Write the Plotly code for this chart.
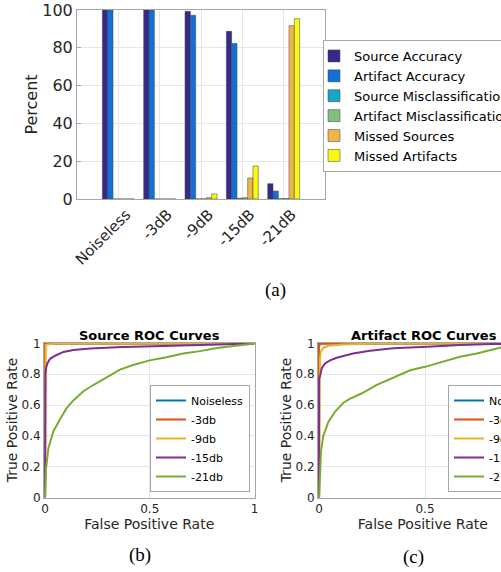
import plotly.graph_objects as go

W, H = 501, 572

# ---------------- (a) bar chart data ----------------
conditions = ["Noiseless", "-3dB", "-9dB", "-15dB", "-21dB"]
source_accuracy = [100, 100, 99.3, 88.7, 8.1]
artifact_accuracy = [100, 100, 97.2, 82.3, 4.2]
source_misclassification = [0, 0, 0.05, 0.4, 0.2]
artifact_misclassification = [0, 0, 0.1, 0.7, 0.3]
missed_sources = [0, 0, 0.7, 11.1, 91.7]
missed_artifacts = [0, 0, 2.7, 17.5, 95.4]
percent_ticks = [0, 20, 40, 60, 80, 100]

bar_names = ["Source Accuracy", "Artifact Accuracy", "Source Misclassification",
             "Artifact Misclassification", "Missed Sources", "Missed Artifacts"]
bar_values = [source_accuracy, artifact_accuracy, source_misclassification,
              artifact_misclassification, missed_sources, missed_artifacts]
bar_colors = ["#352a87", "#1170da", "#16a6c6", "#7dc07e", "#efb54a", "#f9f811"]

# ---------------- (b) Source ROC data ----------------
roc_labels = ["Noiseless", "-3db", "-9db", "-15db", "-21db"]
roc_colors = ["#0072BD", "#D95319", "#EDB120", "#7E2F8E", "#77AC30"]

src_noiseless_fpr = [0, 0, 1]
src_noiseless_tpr = [0, 1, 1]
src_3db_fpr = [0, 0, 1]
src_3db_tpr = [0, 1, 1]
src_9db_fpr = [0, 0, 0.003, 0.01, 0.05, 1]
src_9db_tpr = [0, 0.985, 0.99, 0.993, 1, 1]
src_15db_fpr = [0, 0, 0.002, 0.005, 0.011, 0.024, 0.048, 0.088, 0.135, 0.215, 0.37, 0.61, 0.85, 1]
src_15db_tpr = [0, 0.73, 0.80, 0.84, 0.87, 0.90, 0.92, 0.945, 0.958, 0.967, 0.976, 0.985, 0.993, 1]
src_21db_fpr = [0, 0.001, 0.005, 0.016, 0.04, 0.072, 0.103, 0.135, 0.183, 0.23, 0.295, 0.358,
                0.42, 0.5, 0.58, 0.66, 0.74, 0.82, 0.9, 0.95, 1]
src_21db_tpr = [0, 0.10, 0.19, 0.32, 0.43, 0.51, 0.58, 0.63, 0.69, 0.73, 0.78, 0.83,
                0.86, 0.89, 0.91, 0.935, 0.95, 0.97, 0.983, 0.99, 1]

# ---------------- (c) Artifact ROC data ----------------
art_noiseless_fpr = [0, 0, 1]
art_noiseless_tpr = [0, 1, 1]
art_3db_fpr = [0, 0, 0.004, 1]
art_3db_tpr = [0, 0.98, 1, 1]
art_9db_fpr = [0, 0.002, 0.004, 0.008, 0.02, 0.044, 0.115, 0.25, 1]
art_9db_tpr = [0, 0.48, 0.90, 0.946, 0.972, 0.985, 0.993, 1, 1]
art_15db_fpr = [0, 0, 0.005, 0.013, 0.028, 0.052, 0.083, 0.115, 0.16, 0.24, 0.35, 0.51, 0.665, 0.82, 1]
art_15db_tpr = [0, 0.77, 0.79, 0.84, 0.87, 0.89, 0.907, 0.92, 0.935, 0.952, 0.968, 0.978, 0.99, 0.996, 1]
art_21db_fpr = [0, 0.003, 0.009, 0.02, 0.044, 0.075, 0.115, 0.145, 0.2, 0.27, 0.366, 0.43,
                0.5, 0.586, 0.665, 0.744, 0.858, 1]
art_21db_tpr = [0, 0.145, 0.30, 0.40, 0.49, 0.556, 0.615, 0.64, 0.675, 0.73, 0.79, 0.826,
                0.848, 0.88, 0.913, 0.935, 0.974, 1]

roc_ticks_x = [0, 0.5, 1]
roc_ticks_y = [0, 0.2, 0.4, 0.6, 0.8, 1]

src_curves = [(src_noiseless_fpr, src_noiseless_tpr), (src_3db_fpr, src_3db_tpr),
              (src_9db_fpr, src_9db_tpr), (src_15db_fpr, src_15db_tpr),
              (src_21db_fpr, src_21db_tpr)]
art_curves = [(art_noiseless_fpr, art_noiseless_tpr), (art_3db_fpr, art_3db_tpr),
              (art_9db_fpr, art_9db_tpr), (art_15db_fpr, art_15db_tpr),
              (art_21db_fpr, art_21db_tpr)]

FONT = "DejaVu Sans"
SERIF = "Liberation Serif"
TXT = "#262626"
GRID = "#e6e6e6"
BOX = "#a6a6a6"


def px(x):
    """pixel x -> paper fraction"""
    return x / W


def py(y):
    """pixel y (from top) -> paper fraction"""
    return 1 - y / H


fig = go.Figure()

for name, vals, col in zip(bar_names, bar_values, bar_colors):
    fig.add_trace(go.Bar(
        x=conditions, y=vals, name=name,
        marker=dict(color=col, line=dict(color="rgba(70,70,70,0.75)", width=0.7)),
        xaxis="x", yaxis="y", legend="legend",
    ))

for (fpr, tpr), lab, col in zip(src_curves, roc_labels, roc_colors):
    fig.add_trace(go.Scatter(
        x=fpr, y=tpr, mode="lines", name=lab,
        line=dict(color=col, width=2),
        xaxis="x2", yaxis="y2", legend="legend2",
    ))

for (fpr, tpr), lab, col in zip(art_curves, roc_labels, roc_colors):
    fig.add_trace(go.Scatter(
        x=fpr, y=tpr, mode="lines", name=lab,
        line=dict(color=col, width=2),
        xaxis="x3", yaxis="y3", legend="legend3",
    ))

roc_axis_common = dict(showline=True, mirror=True, linecolor=BOX, linewidth=1,
                       showgrid=True, gridcolor=GRID, zeroline=False,
                       ticks="", ticklabeloverflow="allow",
                       tickfont=dict(size=12, color=TXT, family=FONT))

x3_left, x3_zero_px, x3_scale = 318, 319, 212.0
x3_max = (W - x3_zero_px) / x3_scale

fig.update_layout(
    width=W, height=H,
    margin=dict(l=0, r=0, t=0, b=0, autoexpand=False),
    paper_bgcolor="white", plot_bgcolor="white",
    font=dict(family=FONT, color=TXT),
    barmode="group", bargap=0.227, bargroupgap=0,
    showlegend=True,
    xaxis=dict(domain=[px(77), px(325)], anchor="y", type="category",
               categoryorder="array", categoryarray=conditions,
               range=[-1, 5], showline=True, mirror=True, linecolor=BOX,
               showgrid=True, gridcolor=GRID, ticks="", tickangle=-45,
               ticklabeloverflow="allow", ticklabelshift=8,
               tickfont=dict(size=15, color=TXT, family=FONT)),
    yaxis=dict(domain=[py(199), py(10)], anchor="x", range=[0, 100],
               tickvals=percent_ticks, showline=True, mirror=True, linecolor=BOX,
               showgrid=True, gridcolor=GRID, zeroline=False,
               ticks="inside", ticklen=4, tickcolor=BOX,
               ticklabeloverflow="allow",
               tickfont=dict(size=16, color=TXT, family=FONT),
               title=dict(text="Percent", font=dict(size=16, color=TXT, family=FONT),
                          standoff=0)),
    xaxis2=dict(domain=[px(44), px(254.5)], anchor="y2", range=[-0.005, 1],
                tickvals=roc_ticks_x,
                title=dict(text="False Positive Rate",
                           font=dict(size=14, color=TXT, family=FONT), standoff=2),
                **roc_axis_common),
    yaxis2=dict(domain=[py(497.5), py(342.5)], anchor="x2", range=[0, 1.006],
                tickvals=roc_ticks_y,
                title=dict(text="True Positive Rate",
                           font=dict(size=14, color=TXT, family=FONT), standoff=0),
                **roc_axis_common),
    xaxis3=dict(domain=[px(x3_left), 1], anchor="y3", range=[-0.005, x3_max],
                tickvals=roc_ticks_x,
                # leading padding keeps the title centred on the full (partly
                # off-page) axis, as in the reference
                title=dict(text="\u200b" + "\u00a0" * 6 + "False Positive Rate",
                           font=dict(size=14, color=TXT, family=FONT), standoff=2),
                **roc_axis_common),
    yaxis3=dict(domain=[py(497.5), py(342.5)], anchor="x3", range=[0, 1.006],
                tickvals=roc_ticks_y,
                title=dict(text="True Positive Rate",
                           font=dict(size=14, color=TXT, family=FONT), standoff=0),
                **roc_axis_common),
    legend=dict(x=px(323), xanchor="left", y=py(106), yanchor="middle",
                bgcolor="white", bordercolor=BOX, borderwidth=1,
                font=dict(size=13, color="#000000", family=FONT),
                indentation=-10, traceorder="normal"),
    legend2=dict(x=px(250), xanchor="right", y=py(492), yanchor="bottom",
                 bgcolor="white", bordercolor=BOX, borderwidth=1,
                 font=dict(size=11, color="#000000", family=FONT),
                 traceorder="normal"),
    legend3=dict(x=px(448), xanchor="left", y=py(492), yanchor="bottom",
                 bgcolor="white", bordercolor=BOX, borderwidth=1,
                 font=dict(size=11, color="#000000", family=FONT),
                 traceorder="normal"),
    annotations=[
        dict(text="<b>Source ROC Curves</b>", x=px(149.5), y=py(335), xref="paper",
             yref="paper", xanchor="center", yanchor="middle", showarrow=False,
             font=dict(size=13, color="#000000", family=FONT)),
        dict(text="<b>Artifact ROC Curves</b>", x=px(424), y=py(335), xref="paper",
             yref="paper", xanchor="center", yanchor="middle", showarrow=False,
             font=dict(size=13, color="#000000", family=FONT)),
        dict(text="(a)", x=px(275), y=py(290), xref="paper", yref="paper",
             xanchor="center", yanchor="middle", showarrow=False,
             font=dict(size=19, color="#000000", family=SERIF)),
        dict(text="(b)", x=px(140), y=py(555), xref="paper", yref="paper",
             xanchor="center", yanchor="middle", showarrow=False,
             font=dict(size=19, color="#000000", family=SERIF)),
        dict(text="(c)", x=px(413), y=py(557), xref="paper", yref="paper",
             xanchor="center", yanchor="middle", showarrow=False,
             font=dict(size=19, color="#000000", family=SERIF)),
    ],
)

# Remove the browser's default 8px body margin so the figure fills the window.
fig.write_html("out.html",
               config={"displayModeBar": False},
               post_script="document.body.style.margin='0';"
                           "document.body.style.overflow='hidden';")
